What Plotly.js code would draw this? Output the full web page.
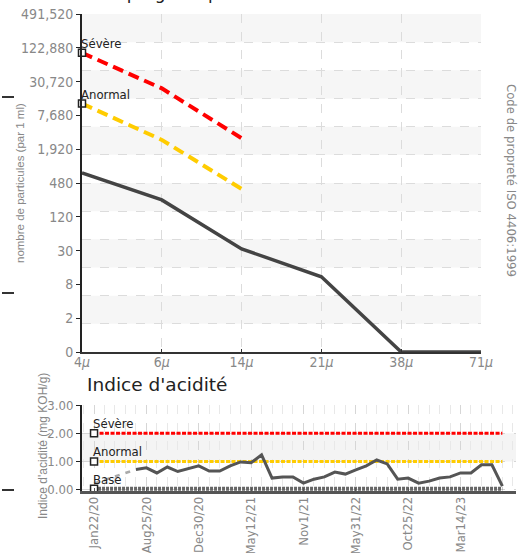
<!DOCTYPE html>
<html><head><meta charset="utf-8">
<script src="https://cdn.plot.ly/plotly-3.0.1.min.js"></script>
<style>html,body{margin:0;padding:0;background:#fff;}#chart{width:524px;height:553px;}</style>
</head><body><div id="chart"></div>
<script>
// ---------- Particle count chart ----------
const sizeIdx = [0, 1, 2, 3, 4, 5];
const sizeLabels = ['4<i>μ</i>', '6<i>μ</i>', '14<i>μ</i>', '21<i>μ</i>', '38<i>μ</i>', '71<i>μ</i>'];
const isoCodes = [6, 8, 10, 12, 14, 16, 18, 20, 22, 24, 26];
const countLabels = ['0', '2', '8', '30', '120', '480', '1,920', '7,680', '30,720', '122,880', '491,520'];
const limitIdx = [0, 1, 2];
const severeCode = [23.7, 21.6, 18.65];
const abnormalCode = [20.7, 18.55, 15.65];
const sampleCode = [16.6, 15.0, 12.1, 10.45, 6, 6];

// ---------- Acid number chart ----------
const acidTickIdx = [0, 5, 10, 15, 20, 25, 30, 35];
const acidDates = ['Jan22/20', 'Aug25/20', 'Dec30/20', 'May12/21', 'Nov1/21', 'May31/22', 'Oct25/22', 'Mar14/23'];
const acidIdx = [4,5,6,7,8,9,10,11,12,13,14,15,16,17,18,19,20,21,22,23,24,25,26,27,28,29,30,31,32,33,34,35,36,37,38,39];
const acidValues = [0.71,0.77,0.59,0.80,0.64,0.73,0.84,0.66,0.66,0.84,0.98,0.95,1.23,0.41,0.45,0.45,0.23,0.37,0.45,0.62,0.55,0.70,0.84,1.05,0.91,0.37,0.41,0.23,0.30,0.41,0.45,0.59,0.59,0.88,0.88,0.12];
const acidGapIdx = [0, 4];
const acidGapValues = [0.22, 0.71];
const acidSpan = [0, 39];
const acidSevere = [2.0, 2.0];
const acidAbnormal = [1.0, 1.0];
const acidBase = [0.03, 0.03];

const NARROW = '"Liberation Sans Narrow", "DejaVu Sans Condensed", "Roboto", sans-serif';
const REG = '"Liberation Sans", "DejaVu Sans", sans-serif';
const W = 524, H = 553;
const px = v => v / W, py = v => 1 - v / H;

const sq = {symbol: 'square', size: 7, color: '#fff', line: {width: 1.5, color: '#222'}};

const traces = [
  // top chart
  {x: limitIdx, y: severeCode, xaxis: 'x', yaxis: 'y', mode: 'lines', line: {color: '#ff0000', width: 4, dash: '11px,6px'}},
  {x: limitIdx, y: abnormalCode, xaxis: 'x', yaxis: 'y', mode: 'lines', line: {color: '#ffcc00', width: 4, dash: '11px,6px'}},
  {x: sizeIdx, y: sampleCode, xaxis: 'x', yaxis: 'y', mode: 'lines', line: {color: '#444', width: 3.5}},
  {x: [limitIdx[0], limitIdx[0]], y: [severeCode[0], abnormalCode[0]], xaxis: 'x', yaxis: 'y', mode: 'markers', marker: sq, cliponaxis: false},
  // bottom chart
  {x: acidSpan, y: acidBase, xaxis: 'x2', yaxis: 'y2', mode: 'lines', line: {color: '#666', width: 4, dash: '3px,1px'}},
  {x: acidSpan, y: acidSevere, xaxis: 'x2', yaxis: 'y2', mode: 'lines', line: {color: '#ff0000', width: 3, dash: '4px,1.5px'}},
  {x: acidSpan, y: acidAbnormal, xaxis: 'x2', yaxis: 'y2', mode: 'lines', line: {color: '#ffcc00', width: 3, dash: '4px,1.5px'}},
  {x: acidGapIdx, y: acidGapValues, xaxis: 'x2', yaxis: 'y2', mode: 'lines', line: {color: '#aaa', width: 2.5, dash: '5px,6px'}},
  {x: acidIdx, y: acidValues, xaxis: 'x2', yaxis: 'y2', mode: 'lines', line: {color: '#555', width: 3}},
  {x: [acidSpan[0], acidSpan[0], acidSpan[0]], y: [acidSevere[0], acidAbnormal[0], acidBase[0]], xaxis: 'x2', yaxis: 'y2', mode: 'markers', marker: sq, cliponaxis: false}
];

const tickFont = {family: NARROW, size: 14, color: '#888'};
const shapes = [];
// alternating light bands in top chart (12 grid divisions)
for (let k = 1; k < 12; k += 2) {
  shapes.push({type: 'rect', xref: 'x domain', yref: 'y4', x0: 0, x1: 1, y0: k, y1: k + 1, fillcolor: '#f6f6f6', line: {width: 0}, layer: 'below'});
}
// band between 1 and 2 in acid chart
shapes.push({type: 'rect', xref: 'x2 domain', yref: 'y2', x0: 0, x1: 1, y0: 1, y1: 2, fillcolor: '#f4f4f4', line: {width: 0}, layer: 'below'});
// clipped neighbour marks at left edge
[97, 293, 490].forEach(v => shapes.push({type: 'line', xref: 'paper', yref: 'paper', x0: px(2), x1: px(14), y0: py(v), y1: py(v), line: {color: '#333', width: 2}}));

const annFont = {family: NARROW, size: 13, color: '#222'};
const annotations = [
  {xref: 'x', yref: 'y', x: limitIdx[0], y: severeCode[0], text: 'Sévère', showarrow: false, xanchor: 'left', yanchor: 'bottom', xshift: -3, yshift: 0, font: annFont},
  {xref: 'x', yref: 'y', x: limitIdx[0], y: abnormalCode[0], text: 'Anormal', showarrow: false, xanchor: 'left', yanchor: 'bottom', xshift: -3, yshift: 0, font: annFont},
  {xref: 'x2', yref: 'y2', x: acidSpan[0], y: acidSevere[0], text: 'Sévère', showarrow: false, xanchor: 'left', yanchor: 'bottom', xshift: -3, yshift: 0, font: annFont},
  {xref: 'x2', yref: 'y2', x: acidSpan[0], y: acidAbnormal[0], text: 'Anormal', showarrow: false, xanchor: 'left', yanchor: 'bottom', xshift: -3, yshift: 0, font: annFont},
  {xref: 'x2', yref: 'y2', x: acidSpan[0], y: acidBase[0], text: 'Base', showarrow: false, xanchor: 'left', yanchor: 'bottom', xshift: -3, yshift: 0, font: annFont},
  {xref: 'paper', yref: 'paper', x: px(20), y: py(183), text: 'nombre de particules (par 1 ml)', textangle: -90, showarrow: false, xanchor: 'center', yanchor: 'middle', font: {family: REG, size: 11.5, color: '#888'}},
  {xref: 'paper', yref: 'paper', x: px(512), y: py(180), text: 'Code de propreté ISO 4406:1999', textangle: 90, showarrow: false, xanchor: 'center', yanchor: 'middle', font: {family: NARROW, size: 13, color: '#888'}},
  {xref: 'paper', yref: 'paper', x: px(43), y: py(446), text: "Indice d'acidité (mg KOH/g)", textangle: -90, showarrow: false, xanchor: 'center', yanchor: 'middle', font: {family: REG, size: 12, color: '#888'}},
  {xref: 'paper', yref: 'paper', x: px(85), y: py(384), text: "Indice d'acidité", showarrow: false, xanchor: 'left', yanchor: 'middle', font: {family: '"DejaVu Sans", sans-serif', size: 18.5, color: '#222'}},
  {xref: 'paper', yref: 'paper', x: px(86), y: py(5), text: 'Comptage de particules', showarrow: false, xanchor: 'left', yanchor: 'bottom', font: {family: '"DejaVu Sans", sans-serif', size: 17, color: '#222'}}
];

const layout = {
  width: W, height: H,
  margin: {l: 0, r: 0, t: 0, b: 0},
  paper_bgcolor: '#fff', plot_bgcolor: 'rgba(0,0,0,0)',
  showlegend: false,
  xaxis: {domain: [px(82), px(481)], range: [0, 5], anchor: 'y', tickmode: 'array', tickvals: sizeIdx, ticktext: sizeLabels,
    showgrid: true, gridcolor: '#dcdcdc', griddash: 'dash', zeroline: false, showline: true, linecolor: '#333', linewidth: 2,
    ticks: 'inside', ticklen: 3, tickcolor: '#333', tickfont: tickFont, ticklabelstandoff: -4, fixedrange: true},
  yaxis: {domain: [py(352), py(14)], range: [6, 26], anchor: 'x', side: 'left', tickmode: 'array', tickvals: isoCodes, ticktext: countLabels,
    showgrid: false, zeroline: false, showline: true, linecolor: '#222', linewidth: 2, ticks: 'outside', ticklen: 4, tickcolor: '#222', tickfont: tickFont},
  yaxis3: {overlaying: 'y', range: [6, 26], anchor: 'x', side: 'right', tickmode: 'array', tickvals: isoCodes,
    showgrid: false, zeroline: false, showline: true, linecolor: '#222', linewidth: 2, ticks: 'outside', ticklen: 3, tickcolor: '#222', tickfont: tickFont},
  yaxis4: {overlaying: 'y', range: [0, 12], anchor: 'x', side: 'left', dtick: 1, showticklabels: false, ticks: '',
    showgrid: true, gridcolor: '#dcdcdc', griddash: 'dash', zeroline: false, showline: false},
  xaxis2: {domain: [px(82), px(516)], range: [-1.15, 40.3], anchor: 'y2', tickmode: 'array', tickvals: acidTickIdx, ticktext: acidDates, tickangle: -90,
    showgrid: true, gridcolor: '#d6d6d6', griddash: 'dash', zeroline: false, showline: true, linecolor: '#555', linewidth: 2.5,
    ticks: 'inside', ticklen: 3, tickcolor: '#555', tickfont: {family: NARROW, size: 13, color: '#888'}, ticklabelstandoff: -2,
    minor: {tick0: 0, dtick: 1, showgrid: true, gridcolor: '#e8e8e8', griddash: 'dash', ticks: ''}},
  yaxis2: {domain: [py(491), py(405)], range: [-0.05, 3], anchor: 'x2', tickmode: 'array', tickvals: [0, 1, 2, 3], ticktext: ['0.00', '1.00', '2.00', '3.00'],
    showgrid: true, gridcolor: '#d6d6d6', griddash: 'dash', zeroline: false, showline: true, linecolor: '#222', linewidth: 2,
    ticks: 'outside', ticklen: 4, tickcolor: '#222', tickfont: {family: NARROW, size: 13, color: '#888'}},
  shapes: shapes,
  annotations: annotations
};

Plotly.newPlot('chart', traces, layout, {staticPlot: true, displayModeBar: false});
</script>
</body></html>
